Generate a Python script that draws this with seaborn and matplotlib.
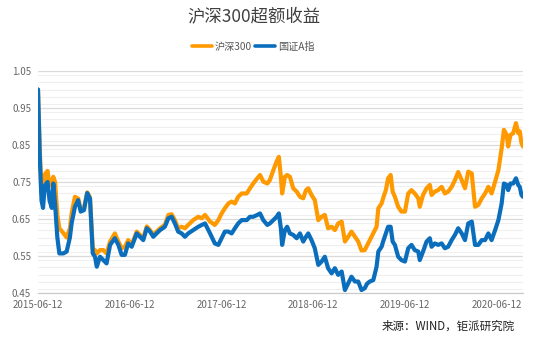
import pandas as pd
import matplotlib
matplotlib.use("Agg")
import matplotlib.pyplot as plt
import matplotlib.dates as mdates
from matplotlib.ticker import MultipleLocator, FixedLocator
import seaborn as sns

# Excess-return index levels (start = 1.0)
dates = [
    "2015-06-12", "2015-06-19", "2015-06-26", "2015-07-02", "2015-07-09", "2015-07-20",
    "2015-07-28", "2015-08-06", "2015-08-12", "2015-08-19", "2015-08-28", "2015-09-05",
    "2015-09-21", "2015-10-04", "2015-10-17", "2015-10-24", "2015-11-06", "2015-11-19",
    "2015-11-29", "2015-12-12", "2015-12-25", "2016-01-05", "2016-01-16", "2016-01-25",
    "2016-02-01", "2016-02-14", "2016-02-27", "2016-03-11", "2016-03-25", "2016-04-13",
    "2016-04-27", "2016-05-10", "2016-05-23", "2016-06-05", "2016-06-19", "2016-07-09",
    "2016-07-22", "2016-08-04", "2016-08-18", "2016-08-31", "2016-09-13", "2016-09-26",
    "2016-10-10", "2016-10-29", "2016-11-12", "2016-11-25", "2016-12-08", "2016-12-21",
    "2017-01-04", "2017-01-17", "2017-01-30", "2017-02-19", "2017-03-11", "2017-03-25",
    "2017-04-07", "2017-04-27", "2017-05-16", "2017-05-30", "2017-06-12", "2017-06-25",
    "2017-07-09", "2017-07-22", "2017-08-04", "2017-08-17", "2017-08-31", "2017-09-20",
    "2017-10-03", "2017-10-16", "2017-11-01", "2017-11-12", "2017-11-25", "2017-12-11",
    "2017-12-21", "2018-01-04", "2018-01-17", "2018-01-26", "2018-02-03", "2018-02-08",
    "2018-02-19", "2018-02-28", "2018-03-11", "2018-03-24", "2018-04-07", "2018-04-20",
    "2018-05-03", "2018-05-14", "2018-05-23", "2018-06-05", "2018-06-18", "2018-07-02",
    "2018-07-15", "2018-07-28", "2018-08-10", "2018-08-24", "2018-09-06", "2018-09-19",
    "2018-10-03", "2018-10-16", "2018-10-29", "2018-11-11", "2018-11-25", "2018-12-08",
    "2018-12-21", "2019-01-03", "2019-01-12", "2019-01-23", "2019-02-06", "2019-02-19",
    "2019-02-26", "2019-03-11", "2019-03-17", "2019-03-28", "2019-04-06", "2019-04-16",
    "2019-04-24", "2019-05-03", "2019-05-16", "2019-05-29", "2019-06-12", "2019-06-25",
    "2019-07-08", "2019-07-21", "2019-08-04", "2019-08-10", "2019-08-23", "2019-09-06",
    "2019-09-19", "2019-09-26", "2019-10-09", "2019-10-22", "2019-11-05", "2019-11-18",
    "2019-12-01", "2019-12-15", "2019-12-28", "2020-01-10", "2020-01-24", "2020-02-06",
    "2020-02-19", "2020-03-04", "2020-03-17", "2020-03-30", "2020-04-13", "2020-04-26",
    "2020-05-09", "2020-05-22", "2020-06-05", "2020-06-18", "2020-07-01", "2020-07-10",
    "2020-07-21", "2020-07-27", "2020-08-05", "2020-08-16", "2020-08-27", "2020-09-05",
    "2020-09-11", "2020-09-18", "2020-09-24",
]

hs300 = [
    1.000, 0.840, 0.720, 0.710, 0.770, 0.780,
    0.740, 0.750, 0.764, 0.750, 0.660, 0.625,
    0.612, 0.600, 0.625, 0.666, 0.710, 0.705,
    0.675, 0.680, 0.722, 0.708, 0.570, 0.566,
    0.557, 0.566, 0.566, 0.557, 0.589, 0.611,
    0.589, 0.571, 0.575, 0.593, 0.580, 0.616,
    0.607, 0.598, 0.630, 0.620, 0.607, 0.616,
    0.625, 0.634, 0.661, 0.663, 0.647, 0.625,
    0.629, 0.625, 0.634, 0.647, 0.656, 0.652,
    0.661, 0.643, 0.634, 0.647, 0.665, 0.679,
    0.692, 0.697, 0.692, 0.710, 0.719, 0.719,
    0.733, 0.746, 0.760, 0.769, 0.751, 0.746,
    0.755, 0.782, 0.805, 0.818, 0.764, 0.719,
    0.764, 0.769, 0.764, 0.733, 0.724, 0.710,
    0.706, 0.728, 0.733, 0.715, 0.701, 0.647,
    0.656, 0.661, 0.625, 0.629, 0.620, 0.638,
    0.643, 0.589, 0.602, 0.616, 0.602, 0.589,
    0.565, 0.566, 0.578, 0.593, 0.611, 0.629,
    0.679, 0.692, 0.706, 0.728, 0.760, 0.769,
    0.724, 0.710, 0.683, 0.670, 0.670, 0.719,
    0.728, 0.719, 0.706, 0.683, 0.715, 0.733,
    0.742, 0.715, 0.724, 0.728, 0.737, 0.719,
    0.724, 0.737, 0.755, 0.777, 0.755, 0.733,
    0.778, 0.773, 0.683, 0.688, 0.706, 0.719,
    0.737, 0.719, 0.751, 0.782, 0.841, 0.891,
    0.877, 0.846, 0.877, 0.882, 0.909, 0.882,
    0.887, 0.855, 0.846,
]

gzaz = [
    1.000, 0.820, 0.700, 0.680, 0.740, 0.750,
    0.700, 0.680, 0.746, 0.690, 0.600, 0.557,
    0.557, 0.562, 0.600, 0.639, 0.683, 0.701,
    0.670, 0.674, 0.720, 0.705, 0.557, 0.548,
    0.521, 0.548, 0.539, 0.530, 0.580, 0.598,
    0.580, 0.553, 0.553, 0.584, 0.575, 0.611,
    0.602, 0.593, 0.625, 0.616, 0.602, 0.611,
    0.620, 0.629, 0.652, 0.656, 0.638, 0.616,
    0.611, 0.602, 0.611, 0.620, 0.629, 0.634,
    0.638, 0.611, 0.584, 0.580, 0.598, 0.616,
    0.616, 0.611, 0.625, 0.638, 0.647, 0.647,
    0.656, 0.656, 0.661, 0.665, 0.647, 0.634,
    0.638, 0.647, 0.656, 0.665, 0.625, 0.580,
    0.620, 0.629, 0.611, 0.607, 0.598, 0.611,
    0.589, 0.602, 0.611, 0.593, 0.571, 0.526,
    0.535, 0.548, 0.517, 0.503, 0.517, 0.499,
    0.508, 0.458, 0.476, 0.494, 0.481, 0.481,
    0.458, 0.463, 0.475, 0.481, 0.485, 0.521,
    0.562, 0.575, 0.589, 0.611, 0.629, 0.629,
    0.589, 0.580, 0.548, 0.539, 0.535, 0.571,
    0.580, 0.566, 0.562, 0.539, 0.562, 0.589,
    0.598, 0.575, 0.584, 0.580, 0.584, 0.571,
    0.575, 0.593, 0.607, 0.625, 0.611, 0.593,
    0.638, 0.643, 0.580, 0.580, 0.593, 0.593,
    0.611, 0.593, 0.620, 0.647, 0.692, 0.746,
    0.742, 0.728, 0.746, 0.746, 0.760, 0.742,
    0.737, 0.715, 0.710,
]

series_names = ["沪深300", "国证A指"]
series_colors = ["#FF9900", "#0A6EBD"]
year_ticks = ["2015-06-12", "2016-06-12", "2017-06-12", "2018-06-12", "2019-06-12", "2020-06-12"]
y_ticks = [0.45, 0.55, 0.65, 0.75, 0.85, 0.95, 1.05]

sns.set_theme(style="white")
plt.rcParams["font.family"] = ["Noto Sans CJK SC", "DejaVu Sans"]

df = pd.DataFrame({"date": pd.to_datetime(dates), series_names[0]: hs300, series_names[1]: gzaz})
long_df = df.melt(id_vars="date", var_name="series", value_name="value")

fig = plt.figure(figsize=(5.5, 3.4), dpi=100)
ax = fig.add_axes([38 / 550, 1 - 293 / 340, (523 - 38) / 550, (293 - 71) / 340])

sns.lineplot(data=long_df, x="date", y="value", hue="series", hue_order=series_names,
             palette=series_colors, linewidth=3.0, ax=ax, legend=True)
for line in ax.get_lines():
    line.set_solid_joinstyle("round")
    line.set_solid_capstyle("round")

# axis ranges
ax.set_xlim(df["date"].iloc[0], df["date"].iloc[-1])
ax.set_ylim(0.45, 1.05)

# gridlines: light every 0.02, slightly darker at labelled levels
ax.yaxis.set_major_locator(FixedLocator(y_ticks))
ax.yaxis.set_minor_locator(MultipleLocator(0.02))
ax.grid(axis="y", which="major", color="#DADADA", linewidth=0.9)
ax.grid(axis="y", which="minor", color="#EFEFEF", linewidth=0.8)
ax.grid(axis="x", visible=False)
ax.set_axisbelow(True)
ax.yaxis.set_major_formatter(plt.FuncFormatter(lambda v, p: f"{v:.2f}"))

ax.xaxis.set_major_locator(FixedLocator(mdates.date2num(pd.to_datetime(year_ticks))))
ax.xaxis.set_major_formatter(mdates.DateFormatter("%Y-%m-%d"))

for side in ["left", "right", "top"]:
    ax.spines[side].set_visible(False)
ax.spines["bottom"].set_color("#CCCCCC")
ax.spines["bottom"].set_linewidth(0.9)

ax.tick_params(axis="y", which="both", length=0, pad=5, labelsize=7, labelcolor="#666666")
ax.tick_params(axis="x", which="major", length=3, width=0.8, color="#CCCCCC",
               pad=2, labelsize=7, labelcolor="#666666")
ax.set_xlabel("")
ax.set_ylabel("")

# legend above the plot
handles, labels = ax.get_legend_handles_labels()
ax.get_legend().remove()
for h in handles:
    h.set_linewidth(2.6)
fig.legend(handles, labels, loc="center", bbox_to_anchor=(0.46, 1 - 47 / 340), ncol=2,
           frameon=False, fontsize=7.3, handlelength=2.0, handletextpad=0.25,
           columnspacing=0.3, labelcolor="#555555")

fig.text(0.462, 1 - 17 / 340, "沪深300超额收益", ha="center", va="center",
         fontsize=12.5, color="#404040")
fig.text(515 / 550, 1 - 326 / 340, "来源：WIND，钜派研究院", ha="right", va="center",
         fontsize=8.3, color="#222222")

fig.savefig("out.png", dpi=100)
